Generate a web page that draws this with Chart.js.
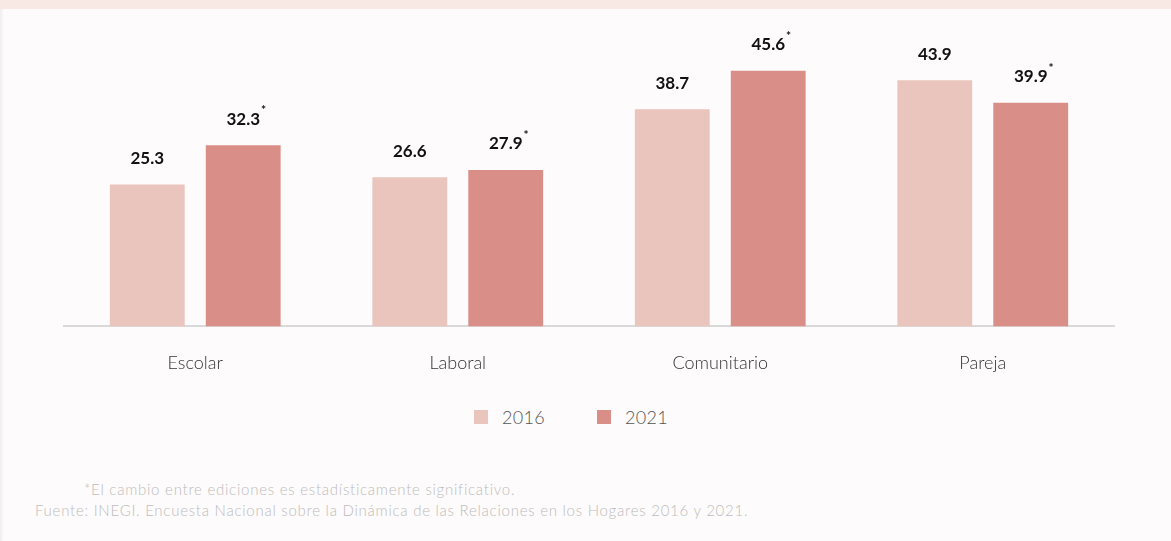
<!DOCTYPE html>
<html lang="es">
<head>
<meta charset="utf-8">
<script src="https://cdn.jsdelivr.net/npm/chart.js@4.4.1/dist/chart.umd.min.js"></script>
<style>
  html, body { margin: 0; padding: 0; background: #fdfbfb; }
  body { width: 1171px; height: 541px; position: relative; overflow: hidden; font-family: Lato, "Open Sans", sans-serif; }
  .top-band { position: absolute; left: 0; top: 0; width: 1171px; height: 9px; background: #f8e9e5; }
  .edge { position: absolute; left: 0; top: 9px; width: 4px; height: 532px; background: linear-gradient(to right, #eeeeee, #fdfbfb); }
  .chart-box { position: absolute; left: 0; top: 0; width: 1171px; height: 400px; }
  #legend { position: absolute; left: 474px; top: 405px; height: 24px; display: flex; align-items: center; }
  #legend .item { display: flex; align-items: center; margin-right: 52px; font-size: 18px; font-weight: 300; color: #555555; letter-spacing: 0.3px; }
  #legend .box { width: 14px; height: 14px; margin-right: 14px; }
  .note { position: absolute; color: #bdbdbd; font-size: 15px; font-weight: 300; white-space: nowrap; letter-spacing: 0.75px; }
</style>
</head>
<body>
<div class="top-band"></div>
<div class="edge"></div>
<div class="chart-box"><canvas id="barChart"></canvas></div>
<div id="legend"></div>
<div class="note" style="left:84px; top:480px;">*El cambio entre ediciones es estadísticamente significativo.</div>
<div class="note" style="left:35px; top:501px;">Fuente: INEGI. Encuesta Nacional sobre la Dinámica de las Relaciones en los Hogares 2016 y 2021.</div>

<script>
  const ambitos = ['Escolar', 'Laboral', 'Comunitario', 'Pareja'];
  const valores2016 = [25.3, 26.6, 38.7, 43.9];
  const valores2021 = [32.3, 27.9, 45.6, 39.9];
  // cambio significativo entre ediciones (se marca con *)
  const signif2016 = [false, false, false, false];
  const signif2021 = [true, true, true, true];

  const barChartData = {
    labels: ambitos,
    datasets: [
      {
        label: '2016',
        data: valores2016,
        signif: signif2016,
        backgroundColor: '#eac5bd'
      },
      {
        label: '2021',
        data: valores2021,
        signif: signif2021,
        backgroundColor: '#d98e87'
      }
    ]
  };

  // etiquetas de valor encima de cada barra, con asterisco si aplica
  const valueLabels = {
    id: 'valueLabels',
    afterDatasetsDraw(chart) {
      const { ctx } = chart;
      ctx.save();
      chart.data.datasets.forEach((ds, i) => {
        const meta = chart.getDatasetMeta(i);
        meta.data.forEach((bar, j) => {
          const txt = ds.data[j].toFixed(1);
          ctx.font = 'bold 17px Lato, "Open Sans", sans-serif';
          ctx.fillStyle = '#111111';
          ctx.textAlign = 'center';
          ctx.textBaseline = 'middle';
          const y = bar.y - 26;
          ctx.fillText(txt, bar.x, y);
          if (ds.signif[j]) {
            const w = ctx.measureText(txt).width;
            ctx.font = 'bold 12px Lato, sans-serif';
            ctx.textAlign = 'left';
            ctx.fillText('*', bar.x + w / 2 + 1, y - 9);
          }
        });
      });
      ctx.restore();
    }
  };

  // leyenda en HTML a partir de los datasets
  const htmlLegend = {
    id: 'htmlLegend',
    afterUpdate(chart) {
      const box = document.getElementById('legend');
      box.innerHTML = '';
      chart.data.datasets.forEach(ds => {
        const item = document.createElement('div');
        item.className = 'item';
        const sw = document.createElement('span');
        sw.className = 'box';
        sw.style.background = ds.backgroundColor;
        item.appendChild(sw);
        item.appendChild(document.createTextNode(ds.label));
        box.appendChild(item);
      });
    }
  };

  const ctxBar = document.getElementById('barChart').getContext('2d');
  new Chart(ctxBar, {
    type: 'bar',
    data: barChartData,
    options: {
      responsive: true,
      maintainAspectRatio: false,
      animation: false,
      categoryPercentage: 0.731,
      barPercentage: 0.78,
      layout: {
        padding: { left: 64, right: 57, top: 46, bottom: 8 }
      },
      plugins: {
        tooltip: { enabled: false },
        legend: { display: false }
      },
      scales: {
        x: {
          grid: { display: false },
          border: { display: true, color: '#d9d9d9', width: 2 },
          ticks: {
            color: '#333333',
            padding: 18,
            font: { size: 18, family: 'Lato, "Open Sans", sans-serif', weight: '300' }
          }
        },
        y: {
          display: false,
          min: 0,
          max: 50
        }
      }
    },
    plugins: [valueLabels, htmlLegend]
  });
</script>
</body>
</html>
